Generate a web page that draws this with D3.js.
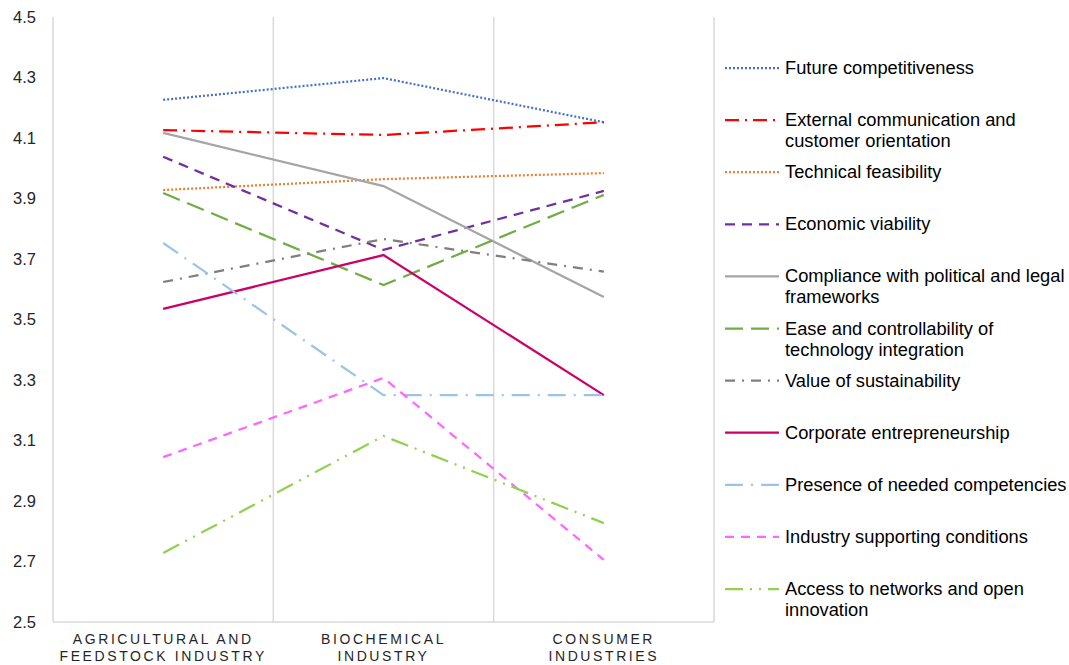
<!DOCTYPE html>
<html>
<head>
<meta charset="utf-8">
<script src="https://cdn.jsdelivr.net/npm/d3@7"></script>
<style>
  body { margin: 0; background: #fff; }
  text { font-family: "Liberation Sans", Arial, sans-serif; }
</style>
</head>
<body>
<svg id="chart" width="1069" height="665"></svg>
<script>
// categories and tick labels
var categories = ["Agricultural and feedstock industry", "Biochemical industry", "Consumer industries"];
var categoryLines = [["AGRICULTURAL AND", "FEEDSTOCK INDUSTRY"], ["BIOCHEMICAL", "INDUSTRY"], ["CONSUMER", "INDUSTRIES"]];
var yTicks = [2.5, 2.7, 2.9, 3.1, 3.3, 3.5, 3.7, 3.9, 4.1, 4.3, 4.5];

// series values (agri, biochem, consumer)
var futureCompetitiveness = [4.226, 4.298, 4.152];
var externalCommunication = [4.126, 4.110, 4.152];
var technicalFeasibility = [3.928, 3.964, 3.984];
var economicViability = [4.038, 3.730, 3.925];
var compliance = [4.117, 3.941, 3.574];
var easeOfIntegration = [3.918, 3.614, 3.912];
var valueOfSustainability = [3.624, 3.766, 3.658];
var corporateEntrepreneurship = [3.535, 3.713, 3.250];
var neededCompetencies = [3.753, 3.250, 3.250];
var industryConditions = [3.045, 3.307, 2.705];
var accessToNetworks = [2.728, 3.115, 2.827];

var series = [
	{ name: ["Future competitiveness"], values: futureCompetitiveness, color: "#4472C4", dash: "2,2" },
	{ name: ["External communication and", "customer orientation"], values: externalCommunication, color: "#FF0000", dash: "14,6,2,6" },
	{ name: ["Technical feasibility"], values: technicalFeasibility, color: "#ED7D31", dash: "2,2" },
	{ name: ["Economic viability"], values: economicViability, color: "#7030A0", dash: "10,7" },
	{ name: ["Compliance with political and legal", "frameworks"], values: compliance, color: "#A5A5A5", dash: null },
	{ name: ["Ease and controllability of", "technology integration"], values: easeOfIntegration, color: "#70AD47", dash: "18,8" },
	{ name: ["Value of sustainability"], values: valueOfSustainability, color: "#7F7F7F", dash: "10,7,2,7" },
	{ name: ["Corporate entrepreneurship"], values: corporateEntrepreneurship, color: "#CC0066", dash: null },
	{ name: ["Presence of needed competencies"], values: neededCompetencies, color: "#9DC3E6", dash: "18,8,2,8" },
	{ name: ["Industry supporting conditions"], values: industryConditions, color: "#FF66FF", dash: "9,7" },
	{ name: ["Access to networks and open", "innovation"], values: accessToNetworks, color: "#92D050", dash: "18,7,2,7,2,7" }
];

var svg = d3.select("#chart"),
	margin = { top: 17, left: 53, right: 355, bottom: 43 },
	width = +svg.attr("width") - margin.left - margin.right,
	height = +svg.attr("height") - margin.top - margin.bottom;

var x = d3.scaleBand().domain(categories).range([0, width]);
var y = d3.scaleLinear().domain([2.5, 4.5]).range([height, 0]);

var g = svg.append("g")
	.attr("transform", "translate(" + margin.left + "," + margin.top + ")");

// category separators and frame lines
var bounds = categories.map(function(c) { return x(c); }).concat([width]);
g.selectAll(".sep")
	.data(bounds)
	.enter().append("line")
	.attr("x1", function(d) { return d; })
	.attr("x2", function(d) { return d; })
	.attr("y1", 0)
	.attr("y2", height)
	.attr("stroke", "#d9d9d9")
	.attr("stroke-width", 1.5);

g.append("line")
	.attr("x1", 0).attr("x2", width)
	.attr("y1", height).attr("y2", height)
	.attr("stroke", "#d9d9d9")
	.attr("stroke-width", 1.5);

// y axis labels
var yAxis = g.append("g")
	.call(d3.axisLeft(y).tickValues(yTicks).tickFormat(d3.format(".1f")).tickSize(0).tickPadding(17));
yAxis.select(".domain").remove();
yAxis.selectAll("text")
	.attr("font-size", 16.5)
	.attr("font-family", "Liberation Sans, Arial, sans-serif")
	.attr("fill", "#262626");

// x axis labels
var xLab = g.selectAll(".xlab")
	.data(categories)
	.enter().append("text")
	.attr("class", "xlab")
	.attr("text-anchor", "middle")
	.attr("font-size", 14)
	.attr("letter-spacing", 2.6)
	.attr("fill", "#262626")
	.attr("transform", function(d) {
		return "translate(" + (x(d) + x.bandwidth() / 2) + "," + (height + 22) + ")";
	});
xLab.each(function(d, i) {
	var t = d3.select(this);
	categoryLines[i].forEach(function(line, j) {
		t.append("tspan").attr("x", 0).attr("dy", j === 0 ? 0 : 17).text(line);
	});
});

// lines
var line = d3.line()
	.x(function(d, i) { return x(categories[i]) + x.bandwidth() / 2; })
	.y(function(d) { return y(d); });

g.selectAll(".series")
	.data(series)
	.enter().append("path")
	.attr("class", "series")
	.attr("d", function(d) { return line(d.values); })
	.attr("fill", "none")
	.attr("stroke", function(d) { return d.color; })
	.attr("stroke-width", 2.25)
	.attr("stroke-dasharray", function(d) { return d.dash; });

// legend
var legend = svg.append("g").attr("transform", "translate(725,68)");
var item = legend.selectAll(".item")
	.data(series)
	.enter().append("g")
	.attr("class", "item")
	.attr("transform", function(d, i) { return "translate(0," + (i * 52.1) + ")"; });

item.append("line")
	.attr("x1", 0).attr("x2", 54)
	.attr("y1", 0).attr("y2", 0)
	.attr("stroke", function(d) { return d.color; })
	.attr("stroke-width", 2.25)
	.attr("stroke-dasharray", function(d) { return d.dash; });

item.append("text")
	.attr("x", 60)
	.attr("y", 6)
	.attr("font-size", 18.3)
	.attr("fill", "#000")
	.each(function(d) {
		var t = d3.select(this);
		d.name.forEach(function(s, j) {
			t.append("tspan").attr("x", 60).attr("dy", j === 0 ? 0 : 21).text(s);
		});
	});
</script>
</body>
</html>
